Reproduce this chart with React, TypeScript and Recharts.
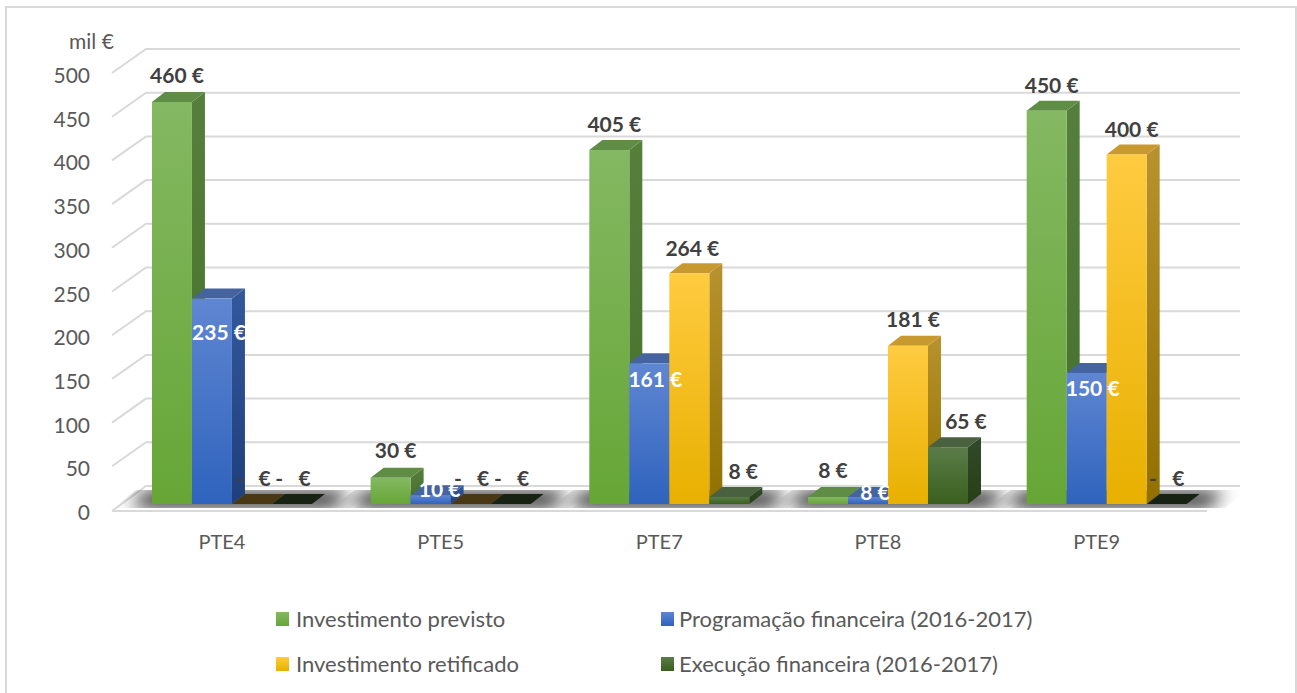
import { BarChart, Bar, XAxis, YAxis, CartesianGrid, Legend, LabelList } from 'recharts';

const categories = ['PTE4', 'PTE5', 'PTE7', 'PTE8', 'PTE9'];
const investimentoPrevisto = [460, 30, 405, 8, 450];
const programacaoFinanceira = [235, 10, 161, 8, 150];
const investimentoRetificado = [0, 0, 264, 181, 400];
const execucaoFinanceira = [0, 0, 8, 65, 0];
const yTicks = [0, 50, 100, 150, 200, 250, 300, 350, 400, 450, 500];

const data = categories.map((name, i) => ({
    name,
    previsto: investimentoPrevisto[i],
    programacao: programacaoFinanceira[i],
    retificado: investimentoRetificado[i],
    execucao: execucaoFinanceira[i],
}));

const FONT = 'Lato, sans-serif';
const DEPTH_X = 13;
const DEPTH_Y = 10;

const styles: Record<string, any> = {
    previsto: { label: 'Investimento previsto', front: ['#84b862', '#66a636'], side: ['#567f3c', '#44702a'], top: '#5f8d46', flat: '#5f8d46', text: '#404040' },
    programacao: { label: 'Programação financeira (2016-2017)', front: ['#5f86d2', '#2f63bd'], side: ['#33589c', '#1f3f7c'], top: '#45639f', flat: '#45639f', text: '#ffffff' },
    retificado: { label: 'Investimento retificado', front: ['#ffcb40', '#e8b000'], side: ['#b8922e', '#917000'], top: '#c8992f', flat: '#4a3814', text: '#404040' },
    execucao: { label: 'Execução financeira (2016-2017)', front: ['#5b7c49', '#3a5f1d'], side: ['#30492a', '#274019'], top: '#4a6140', flat: '#182212', text: '#404040' },
};

// nudges for data labels, [dx, dy] from the front top centre of the bar
const labelNudges: Record<string, [number, number][]> = {
    previsto: [[5, -27], [5, -28], [5, -27], [5, -28], [5, -26]],
    programacao: [[7, 33], [9, -7], [6, 15], [7, -6], [6, 15]],
    retificado: [[1, -27], [1, -27], [3, -26], [5, -27], [5, -26]],
    execucao: [[1, -27], [1, -27], [14, -27], [18, -27], [0, -27]],
};

const Bar3D = (props: any) => {
    const { x, y, width, height, seriesKey, index } = props;
    const st = styles[seriesKey];
    const bottom = y + height;
    // soft floor shadow under each group, drawn once by the first series
    const right = x + width * 4;
    const shadow = seriesKey === 'previsto' ? (
        <g>
            <clipPath id={`floor-clip-${index}`}>
                <path d={`M${x - 40} ${bottom + 4} L${x - 16} ${bottom - 14} L${right + 62} ${bottom - 14} L${right + 38} ${bottom + 4} Z`} />
            </clipPath>
            <g clipPath={`url(#floor-clip-${index})`}>
                <path
                    d={`M${x - 22} ${bottom + 3} L${x - 6} ${bottom - 12} L${right + 38} ${bottom - 12} L${right + 22} ${bottom + 3} Z`}
                    fill="#111"
                    style={{ filter: 'blur(9px)' }}
                />
            </g>
        </g>
    ) : null;
    if (height <= 0.5) {
        return (
            <g>
                {shadow}
                <path
                    d={`M${x} ${bottom} L${x + DEPTH_X} ${bottom - DEPTH_Y} L${x + width + DEPTH_X} ${bottom - DEPTH_Y} L${x + width} ${bottom} Z`}
                    fill={st.flat}
                />
            </g>
        );
    }
    return (
        <g>
            {shadow}
            <path
                d={`M${x + width} ${y} L${x + width + DEPTH_X} ${y - DEPTH_Y} L${x + width + DEPTH_X} ${bottom - DEPTH_Y} L${x + width} ${bottom} Z`}
                fill={`url(#side-${seriesKey})`}
            />
            <path
                d={`M${x} ${y} L${x + DEPTH_X} ${y - DEPTH_Y} L${x + width + DEPTH_X} ${y - DEPTH_Y} L${x + width} ${y} Z`}
                fill={st.top}
            />
            <rect x={x} y={y} width={width} height={height} fill={`url(#front-${seriesKey})`} />
        </g>
    );
};

const barLabel = (seriesKey: string) => (props: any) => {
    const { x, y, width, value, index } = props;
    const [dx, dy] = labelNudges[seriesKey][index];
    return (
        <text
            x={x + width / 2 + dx}
            y={y + dy}
            textAnchor="middle"
            dominantBaseline="central"
            fontFamily={FONT}
            fontWeight={700}
            fontSize={21}
            fill={styles[seriesKey].text}
            style={{ whiteSpace: 'pre' }}
        >
            {value === 0 ? '-   €' : `${value} €`}
        </text>
    );
};

const gridLine = (props: any) => {
    const { y1, x1, x2 } = props;
    const back = y1 - 18;
    const front = y1 + 6;
    const left = x1 - 10.6;
    const floor = Math.abs(y1 - 504) < 1;
    return (
        <g key={props.key}>
            {floor ? (
                <path
                    d={`M${left} ${front + 1} L${left + 34} ${back} L${x2 + 24} ${back} M${left} ${front + 1} L${x2 - 9} ${front + 1}`}
                    fill="none"
                    stroke="#d9d9d9"
                    strokeWidth={2}
                />
            ) : (
                <path
                    d={`M${left} ${front} L${left + 34} ${back} L${x2 + 24} ${back}`}
                    fill="none"
                    stroke="#d9d9d9"
                    strokeWidth={2}
                />
            )}
        </g>
    );
};

const YTick = (props: any) => (
    <text x={90} y={props.y + 7.5} textAnchor="end" dominantBaseline="central" fontFamily={FONT} fontSize={21} fill="#595959">
        {props.payload.value}
    </text>
);

const XTick = (props: any) => (
    <text x={props.x - 10} y={541} textAnchor="middle" dominantBaseline="central" fontFamily={FONT} fontSize={20} fill="#595959">
        {props.payload.value}
    </text>
);

const legendSpots: Record<string, { x: number; y: number }> = {
    previsto: { x: 276, y: 619 },
    programacao: { x: 661, y: 619 },
    retificado: { x: 276, y: 664 },
    execucao: { x: 661, y: 664 },
};

const LegendContent = (props: any) => (
    <div>
        {(props.payload || []).map((item: any) => {
            const key = item.dataKey as string;
            const spot = legendSpots[key];
            const st = styles[key];
            return (
                <div key={key}>
                    <div
                        style={{
                            position: 'absolute',
                            left: spot.x,
                            top: spot.y - 7,
                            width: 13,
                            height: 14,
                            background: `linear-gradient(${st.front[0]}, ${st.front[1]})`,
                        }}
                    />
                    <div
                        style={{
                            position: 'absolute',
                            left: spot.x + (key === 'programacao' || key === 'execucao' ? 18 : 20),
                            top: spot.y - 14,
                            lineHeight: '28px',
                            whiteSpace: 'nowrap',
                            fontFamily: FONT,
                            fontSize: 22,
                            color: '#595959',
                        }}
                    >
                        {st.label}
                    </div>
                </div>
            );
        })}
    </div>
);

const seriesKeys = ['previsto', 'programacao', 'retificado', 'execucao'];

export default function App() {
    return (
        <div style={{ position: 'absolute', left: 0, top: 0, width: 1297, height: 693, background: '#fff', overflow: 'hidden' }}>
            <div style={{ position: 'absolute', left: 5, top: 6, width: 1288, height: 700, border: '2px solid #d9d9d9' }} />
            <BarChart
                width={1297}
                height={693}
                data={data}
                margin={{ top: 67, right: 81, bottom: 159, left: 82.6 }}
                barCategoryGap={29.35}
                barGap={0}
            >
                <defs>
                    {seriesKeys.map((k) => (
                        <linearGradient key={`f${k}`} id={`front-${k}`} x1="0" y1="0" x2="0" y2="1">
                            <stop offset="0" stopColor={styles[k].front[0]} />
                            <stop offset="1" stopColor={styles[k].front[1]} />
                        </linearGradient>
                    ))}
                    {seriesKeys.map((k) => (
                        <linearGradient key={`s${k}`} id={`side-${k}`} x1="0" y1="0" x2="0" y2="1">
                            <stop offset="0" stopColor={styles[k].side[0]} />
                            <stop offset="1" stopColor={styles[k].side[1]} />
                        </linearGradient>
                    ))}
                </defs>
                <CartesianGrid vertical={false} horizontal={gridLine} />
                <XAxis dataKey="name" axisLine={false} tickLine={false} height={30} tick={XTick} />
                <YAxis width={40} domain={[0, 500]} ticks={yTicks} axisLine={false} tickLine={false} tick={YTick} interval={0} />
                <Legend content={LegendContent} wrapperStyle={{ left: 0, top: 0, bottom: 'auto', width: 0, height: 0 }} />
                {seriesKeys.map((k) => (
                    <Bar
                        key={k}
                        dataKey={k}
                        isAnimationActive={false}
                        fill={styles[k].front[1]}
                        shape={(p: any) => <Bar3D {...p} seriesKey={k} />}
                    >
                        <LabelList dataKey={k} content={barLabel(k)} />
                    </Bar>
                ))}
                <text x={69} y={40} dominantBaseline="central" fontFamily={FONT} fontSize={21} fill="#595959">mil €</text>
            </BarChart>
        </div>
    );
}
